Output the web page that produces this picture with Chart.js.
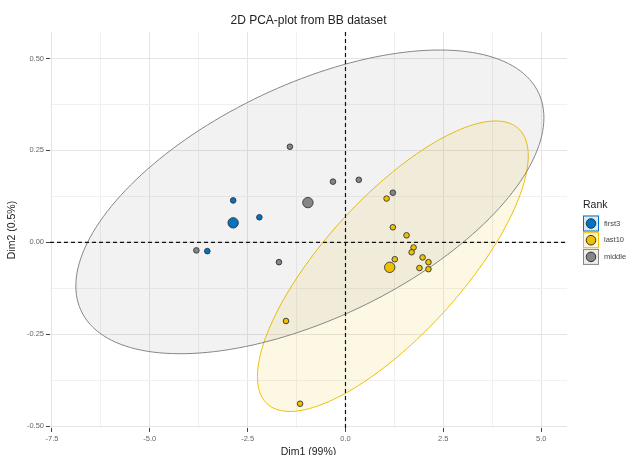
<!DOCTYPE html>
<html>
<head>
<meta charset="utf-8">
<script src="https://cdn.jsdelivr.net/npm/chart.js@4.4.0/dist/chart.umd.min.js"></script>
<style>
    html, body { margin: 0; padding: 0; background: #fff; }
    #wrap { width: 631px; height: 455px; }
</style>
</head>
<body>
<div id="wrap"><canvas id="pca"></canvas></div>
<script>
// groups
const ranks = ["first3", "last10", "middle"];
const rankColors = ["#0073C2", "#EFC000", "#868686"];

// individuals (Dim1, Dim2)
const first3X = [-2.87, -2.20, -3.53];
const first3Y = [0.114, 0.068, -0.024];
const last10X = [1.05, 1.21, 1.56, 1.74, 1.69, 1.26, 1.97, 2.12, 1.89, 2.12, -1.52, -1.16];
const last10Y = [0.119, 0.041, 0.019, -0.014, -0.027, -0.046, -0.041, -0.054, -0.070, -0.073, -0.214, -0.439];
const middleX = [-1.42, -0.32, 0.34, 1.21, -3.81, -1.70];
const middleY = [0.260, 0.165, 0.170, 0.135, -0.022, -0.054];

// group means (same order as ranks)
const meanX = [-2.87, 1.13, -0.96];
const meanY = [0.053, -0.068, 0.108];

// concentration ellipses: centre, spread, correlation (null = none drawn)
const ellCx = [null, 1.21, -0.91];
const ellCy = [null, -0.065, 0.110];
const ellSx = [null, 3.46, 5.98];
const ellSy = [null, 0.395, 0.413];
const ellR = [null, 0.76, 0.554];

// axes
const xTicks = [-7.5, -5.0, -2.5, 0.0, 2.5, 5.0];
const xMinor = [-6.25, -3.75, -1.25, 1.25, 3.75];
const yTicks = [-0.50, -0.25, 0.00, 0.25, 0.50];
const yMinor = [-0.375, -0.125, 0.125, 0.375];
const xMin = -7.55, xMax = 5.66, yMin = -0.505, yMax = 0.572;

function alpha(hex, a) {
    const n = parseInt(hex.slice(1), 16);
    return "rgba(" + (n >> 16) + "," + ((n >> 8) & 255) + "," + (n & 255) + "," + a + ")";
}

function toPoints(xs, ys) {
    return xs.map((v, i) => ({ x: v, y: ys[i] }));
}

// major + minor ticks, minor ones get no label and no tick mark
function setTicks(major, minor) {
    return scale => {
        const all = major.map(v => ({ value: v, isMajor: true }))
            .concat(minor.map(v => ({ value: v, isMajor: false })));
        all.sort((a, b) => a.value - b.value);
        scale.ticks = all;
    };
}

const ellipsePlugin = {
    id: "ellipses",
    beforeDatasetsDraw(chart) {
        const { ctx, chartArea, scales } = chart;
        ctx.save();
        ctx.beginPath();
        ctx.rect(chartArea.left, chartArea.top, chartArea.width, chartArea.height);
        ctx.clip();
        ellCx.forEach((cx, i) => {
            if (cx === null) return;
            const r = ellR[i];
            ctx.beginPath();
            for (let k = 0; k <= 180; k++) {
                const t = k / 180 * Math.PI * 2;
                const dx = ellSx[i] * Math.cos(t);
                const dy = ellSy[i] * (r * Math.cos(t) + Math.sqrt(1 - r * r) * Math.sin(t));
                const px = scales.x.getPixelForValue(cx + dx);
                const py = scales.y.getPixelForValue(ellCy[i] + dy);
                if (k === 0) ctx.moveTo(px, py); else ctx.lineTo(px, py);
            }
            ctx.closePath();
            ctx.fillStyle = alpha(rankColors[i], 0.11);
            ctx.fill();
            ctx.strokeStyle = rankColors[i];
            ctx.lineWidth = 1;
            ctx.stroke();
        });
        ctx.restore();
    }
};

// ggplot-like legend on the right
const legendPlugin = {
    id: "rankLegend",
    afterDraw(chart) {
        const { ctx, chartArea } = chart;
        const x0 = chartArea.right + 16;
        ctx.save();
        ctx.fillStyle = "#222";
        ctx.font = "10.5px 'Liberation Sans', Arial, sans-serif";
        ctx.textBaseline = "middle";
        ctx.fillText("Rank", x0, 205);
        ranks.forEach((name, i) => {
            const cy = 223.5 + i * 16.7;
            ctx.fillStyle = "#fff";
            ctx.fillRect(x0, cy - 8, 16, 16);
            ctx.fillStyle = alpha(rankColors[i], 0.15);
            ctx.fillRect(x0, cy - 8, 16, 16);
            ctx.strokeStyle = rankColors[i];
            ctx.lineWidth = 1;
            ctx.strokeRect(x0 + 0.5, cy - 7.5, 15, 15);
            ctx.beginPath();
            ctx.arc(x0 + 8, cy, 4.8, 0, Math.PI * 2);
            ctx.fillStyle = rankColors[i];
            ctx.fill();
            ctx.strokeStyle = "#333";
            ctx.stroke();
            ctx.fillStyle = "#444";
            ctx.font = "7.5px 'Liberation Sans', Arial, sans-serif";
            ctx.fillText(name, x0 + 21, cy);
        });
        ctx.restore();
    }
};

Chart.defaults.font.family = "'Liberation Sans', Arial, sans-serif";

const gridOpts = {
    color: ctx => ctx.tick && ctx.tick.isMajor ? "#e4e4e4" : "#f0f0f0",
    lineWidth: 1,
    drawTicks: true,
    tickLength: 4,
    tickColor: ctx => ctx.tick && ctx.tick.isMajor ? "#444" : "rgba(0,0,0,0)"
};

const dashStyle = {
    type: "scatter",
    showLine: true,
    borderColor: "#111",
    borderWidth: 1.2,
    borderDash: [4, 3],
    pointRadius: 0,
    order: 10
};

function pointSet(label, xs, ys, i) {
    return {
        label: label,
        data: toPoints(xs, ys),
        backgroundColor: rankColors[i],
        borderColor: "#333",
        borderWidth: 0.9,
        pointRadius: 2.8,
        order: 2
    };
}

new Chart(document.getElementById("pca"), {
    type: "scatter",
    data: {
        datasets: [
            Object.assign({ data: [{ x: xMin, y: 0 }, { x: xMax, y: 0 }] }, dashStyle),
            Object.assign({ data: [{ x: 0, y: yMin }, { x: 0, y: yMax }] }, dashStyle),
            pointSet("first3", first3X, first3Y, 0),
            pointSet("last10", last10X, last10Y, 1),
            pointSet("middle", middleX, middleY, 2),
            {
                label: "mean",
                data: toPoints(meanX, meanY),
                backgroundColor: rankColors,
                borderColor: "#333",
                borderWidth: 0.9,
                pointRadius: 5.2,
                order: 1
            }
        ]
    },
    options: {
        responsive: true,
        maintainAspectRatio: false,
        animation: false,
        layout: { padding: { right: 64 } },
        plugins: {
            legend: { display: false },
            tooltip: { enabled: false },
            title: {
                display: true,
                text: "2D PCA-plot from BB dataset",
                fullSize: false,
                color: "#222",
                font: { size: 12, weight: "normal" },
                padding: { top: 13, bottom: 4.6 }
            }
        },
        scales: {
            x: {
                type: "linear",
                min: xMin,
                max: xMax,
                afterBuildTicks: setTicks(xTicks, xMinor),
                afterFit: s => { s.height = 27; },
                grid: gridOpts,
                border: { display: false },
                ticks: {
                    autoSkip: false,
                    maxRotation: 0,
                    padding: 2,
                    color: "#666",
                    font: { size: 7.5 },
                    callback: (v, i, t) => t[i].isMajor ? v.toFixed(1) : ""
                },
                title: {
                    display: true,
                    text: "Dim1 (99%)",
                    color: "#222",
                    font: { size: 10.5 },
                    padding: { top: 0, bottom: -3 }
                }
            },
            y: {
                type: "linear",
                min: yMin,
                max: yMax,
                afterBuildTicks: setTicks(yTicks, yMinor),
                afterFit: s => { s.width = 50; },
                grid: gridOpts,
                border: { display: false },
                ticks: {
                    autoSkip: false,
                    padding: 2,
                    color: "#666",
                    font: { size: 7.5 },
                    callback: (v, i, t) => t[i].isMajor ? v.toFixed(2) : ""
                },
                title: {
                    display: true,
                    text: "Dim2 (0.5%)",
                    color: "#222",
                    font: { size: 10.5 },
                    padding: { top: 6, bottom: 0 }
                }
            }
        }
    },
    plugins: [ellipsePlugin, legendPlugin]
});
</script>
</body>
</html>
